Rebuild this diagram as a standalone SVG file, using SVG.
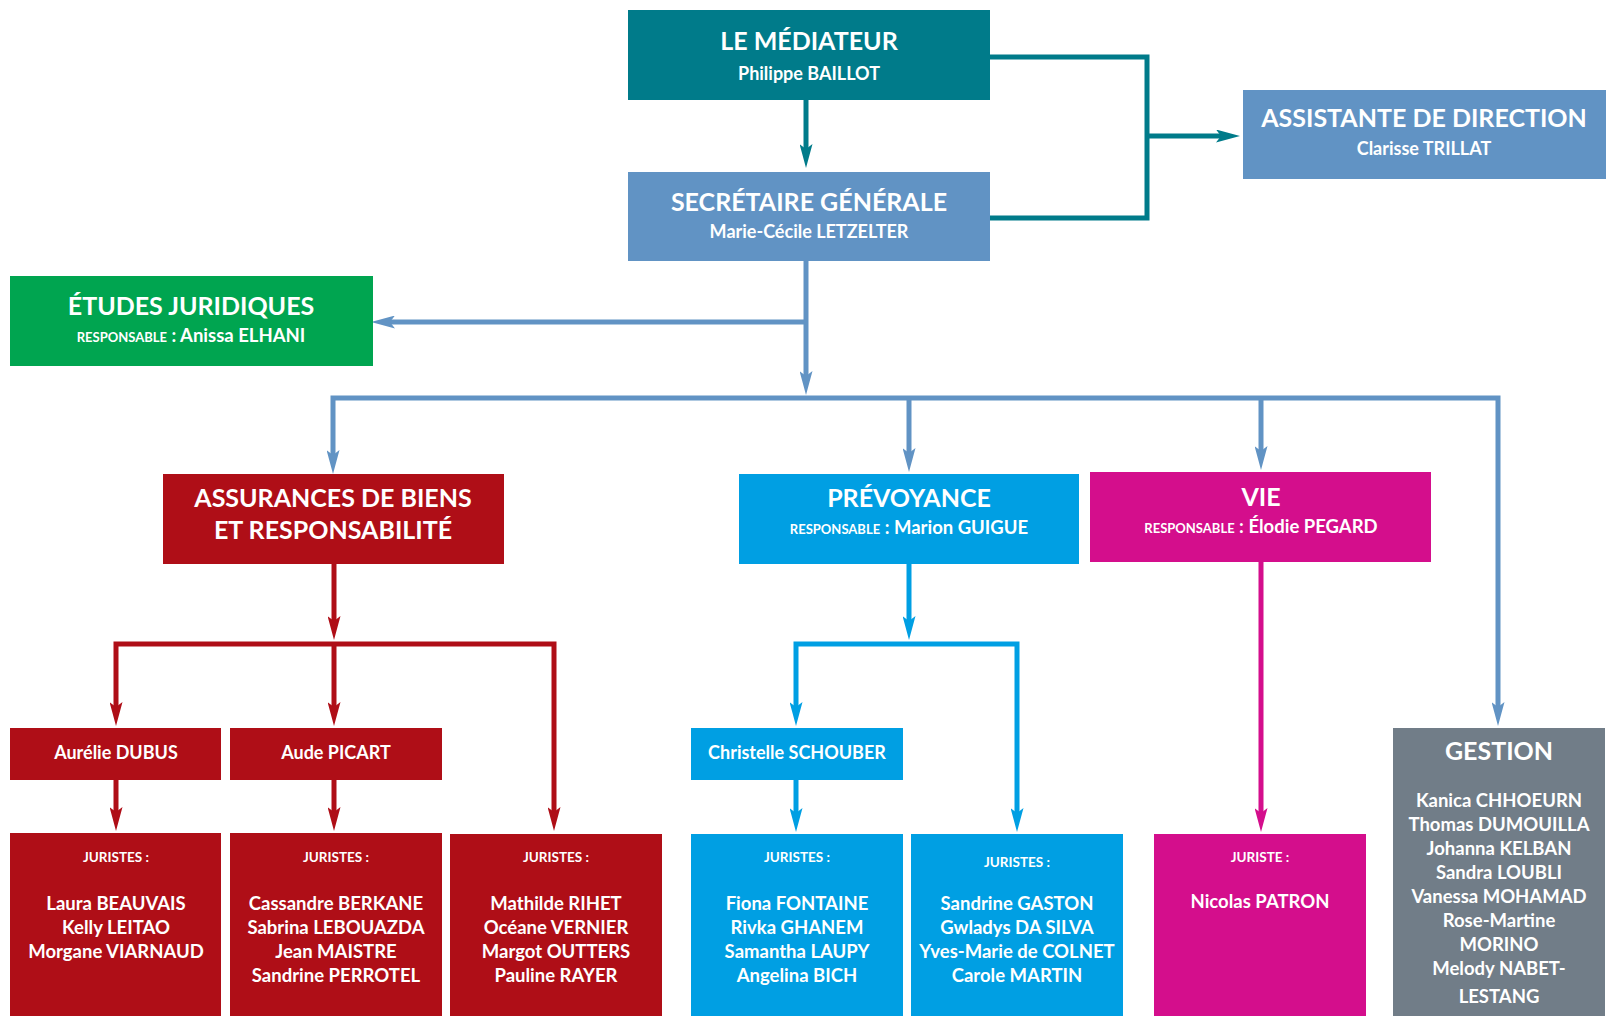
<svg xmlns="http://www.w3.org/2000/svg" width="1614" height="1016" viewBox="0 0 1614 1016">
<style>
text{font-family:Lato,"Open Sans","Liberation Sans",sans-serif;font-weight:700;fill:#fff;text-anchor:middle}
.t{font-size:25px}
.s{font-size:18px}
.g{font-size:18.5px}
.r{font-size:13px}
.j{font-size:13.5px}
.n{font-size:18.5px}
.c{fill:none;stroke-width:5;stroke-linejoin:miter}
.teal{fill:#007b8a}.sb{fill:#6193c4}.grn{fill:#00a550}.red{fill:#af0e17}.cy{fill:#009fe3}.mg{fill:#d40e8c}.gr{fill:#717d88}
</style>
<defs>
<marker id="aT" markerUnits="userSpaceOnUse" markerWidth="24" markerHeight="13" refX="5" refY="6.5" orient="auto-start-reverse"><path d="M0,0 L24,6.5 L0,13 L5,6.5 z" fill="#007b8a"/></marker>
<marker id="aB" markerUnits="userSpaceOnUse" markerWidth="24" markerHeight="13" refX="5" refY="6.5" orient="auto-start-reverse"><path d="M0,0 L24,6.5 L0,13 L5,6.5 z" fill="#6193c4"/></marker>
<marker id="aR" markerUnits="userSpaceOnUse" markerWidth="24" markerHeight="13" refX="5" refY="6.5" orient="auto-start-reverse"><path d="M0,0 L24,6.5 L0,13 L5,6.5 z" fill="#af0e17"/></marker>
<marker id="aC" markerUnits="userSpaceOnUse" markerWidth="24" markerHeight="13" refX="5" refY="6.5" orient="auto-start-reverse"><path d="M0,0 L24,6.5 L0,13 L5,6.5 z" fill="#009fe3"/></marker>
<marker id="aM" markerUnits="userSpaceOnUse" markerWidth="24" markerHeight="13" refX="5" refY="6.5" orient="auto-start-reverse"><path d="M0,0 L24,6.5 L0,13 L5,6.5 z" fill="#d40e8c"/></marker>
</defs>
<rect width="1614" height="1016" fill="#fff"/>

<g id="connectors">
<path class="c" stroke="#007b8a" d="M806,100 V149" marker-end="url(#aT)"/>
<path class="c" stroke="#007b8a" d="M990,57 H1147 V218 H990"/>
<path class="c" stroke="#007b8a" d="M1147,136 H1221" marker-end="url(#aT)"/>
<path class="c" stroke="#6193c4" d="M806,261 V376" marker-end="url(#aB)"/>
<path class="c" stroke="#6193c4" d="M806,322 H390" marker-end="url(#aB)"/>
<path class="c" stroke="#6193c4" d="M333,455 V398 H1498 V707" marker-start="url(#aB)" marker-end="url(#aB)"/>
<path class="c" stroke="#6193c4" d="M909,398 V453" marker-end="url(#aB)"/>
<path class="c" stroke="#6193c4" d="M1261,398 V451" marker-end="url(#aB)"/>
<path class="c" stroke="#af0e17" d="M334,564 V621" marker-end="url(#aR)"/>
<path class="c" stroke="#af0e17" d="M116,707 V644 H554 V812" marker-start="url(#aR)" marker-end="url(#aR)"/>
<path class="c" stroke="#af0e17" d="M334,644 V707" marker-end="url(#aR)"/>
<path class="c" stroke="#af0e17" d="M116,780 V812" marker-end="url(#aR)"/>
<path class="c" stroke="#af0e17" d="M334,780 V812" marker-end="url(#aR)"/>
<path class="c" stroke="#009fe3" d="M909,564 V621" marker-end="url(#aC)"/>
<path class="c" stroke="#009fe3" d="M796,707 V644 H1017 V813" marker-start="url(#aC)" marker-end="url(#aC)"/>
<path class="c" stroke="#009fe3" d="M796,780 V813" marker-end="url(#aC)"/>
<path class="c" stroke="#d40e8c" d="M1261,562 V813" marker-end="url(#aM)"/>
</g>

<g id="mediateur"><rect class="teal" x="628" y="10" width="362" height="90"/>
<text class="t" x="809" y="50">LE MÉDIATEUR</text><text class="s" x="809" y="80">Philippe BAILLOT</text></g>

<g id="secretaire"><rect class="sb" x="628" y="172" width="362" height="89"/>
<text class="t" x="809" y="211">SECRÉTAIRE GÉNÉRALE</text><text class="s" x="809" y="238">Marie-Cécile LETZELTER</text></g>

<g id="assistante"><rect class="sb" x="1243" y="90" width="363" height="89"/>
<text class="t" x="1424" y="127">ASSISTANTE DE DIRECTION</text><text class="s" x="1424" y="155">Clarisse TRILLAT</text></g>

<g id="etudes"><rect class="grn" x="10" y="276" width="363" height="90"/>
<text class="t" x="191" y="315">ÉTUDES JURIDIQUES</text><text x="191" y="342"><tspan class="r">RESPONSABLE</tspan><tspan class="g"> : Anissa ELHANI</tspan></text></g>

<g id="assurances"><rect class="red" x="163" y="474" width="341" height="90"/>
<text class="t" x="333" y="507">ASSURANCES DE BIENS</text><text class="t" x="333" y="539">ET RESPONSABILITÉ</text></g>

<g id="prevoyance"><rect class="cy" x="739" y="474" width="340" height="90"/>
<text class="t" x="909" y="507">PRÉVOYANCE</text><text x="909" y="534"><tspan class="r">RESPONSABLE</tspan><tspan class="g"> : Marion GUIGUE</tspan></text></g>

<g id="vie"><rect class="mg" x="1090" y="472" width="341" height="90"/>
<text class="t" x="1261" y="506">VIE</text><text x="1261" y="533"><tspan class="r">RESPONSABLE</tspan><tspan class="g"> :  Élodie PEGARD</tspan></text></g>

<g id="dubus"><rect class="red" x="10" y="728" width="211" height="52"/><text class="s" x="116" y="759">Aurélie DUBUS</text></g>
<g id="picart"><rect class="red" x="230" y="728" width="212" height="52"/><text class="s" x="336" y="759">Aude PICART</text></g>
<g id="schouber"><rect class="cy" x="691" y="728" width="212" height="52"/><text class="s" x="797" y="759">Christelle SCHOUBER</text></g>

<g id="juristes-dubus"><rect class="red" x="10" y="833" width="211" height="183"/>
<text class="j" x="116" y="862">JURISTES :</text>
<text class="n" x="116" y="910">Laura BEAUVAIS</text><text class="n" x="116" y="934">Kelly LEITAO</text><text class="n" x="116" y="958">Morgane VIARNAUD</text></g>

<g id="juristes-picart"><rect class="red" x="230" y="833" width="212" height="183"/>
<text class="j" x="336" y="862">JURISTES :</text>
<text class="n" x="336" y="910">Cassandre BERKANE</text><text class="n" x="336" y="934">Sabrina LEBOUAZDA</text><text class="n" x="336" y="958">Jean MAISTRE</text><text class="n" x="336" y="982">Sandrine PERROTEL</text></g>

<g id="juristes-assurances"><rect class="red" x="450" y="834" width="212" height="182"/>
<text class="j" x="556" y="862">JURISTES :</text>
<text class="n" x="556" y="910">Mathilde RIHET</text><text class="n" x="556" y="934">Océane VERNIER</text><text class="n" x="556" y="958">Margot OUTTERS</text><text class="n" x="556" y="982">Pauline RAYER</text></g>

<g id="juristes-schouber"><rect class="cy" x="691" y="834" width="212" height="182"/>
<text class="j" x="797" y="862">JURISTES :</text>
<text class="n" x="797" y="910">Fiona FONTAINE</text><text class="n" x="797" y="934">Rivka GHANEM</text><text class="n" x="797" y="958">Samantha LAUPY</text><text class="n" x="797" y="982">Angelina BICH</text></g>

<g id="juristes-prevoyance"><rect class="cy" x="911" y="834" width="212" height="182"/>
<text class="j" x="1017" y="867">JURISTES :</text>
<text class="n" x="1017" y="910">Sandrine GASTON</text><text class="n" x="1017" y="934">Gwladys DA SILVA</text><text class="n" x="1017" y="958">Yves-Marie de COLNET</text><text class="n" x="1017" y="982">Carole MARTIN</text></g>

<g id="juriste-vie"><rect class="mg" x="1154" y="834" width="212" height="182"/>
<text class="j" x="1260" y="862">JURISTE :</text>
<text class="n" x="1260" y="908">Nicolas PATRON</text></g>

<g id="gestion"><rect class="gr" x="1393" y="728" width="212" height="288"/>
<text class="t" x="1499" y="760">GESTION</text>
<text class="g" x="1499" y="807">Kanica CHHOEURN</text><text class="g" x="1499" y="831">Thomas DUMOUILLA</text><text class="g" x="1499" y="855">Johanna KELBAN</text><text class="g" x="1499" y="879">Sandra LOUBLI</text><text class="g" x="1499" y="903">Vanessa MOHAMAD</text><text class="g" x="1499" y="927">Rose-Martine</text><text class="g" x="1499" y="951">MORINO</text><text class="g" x="1499" y="975">Melody NABET-</text><text class="g" x="1499" y="1003">LESTANG</text></g>
</svg>
